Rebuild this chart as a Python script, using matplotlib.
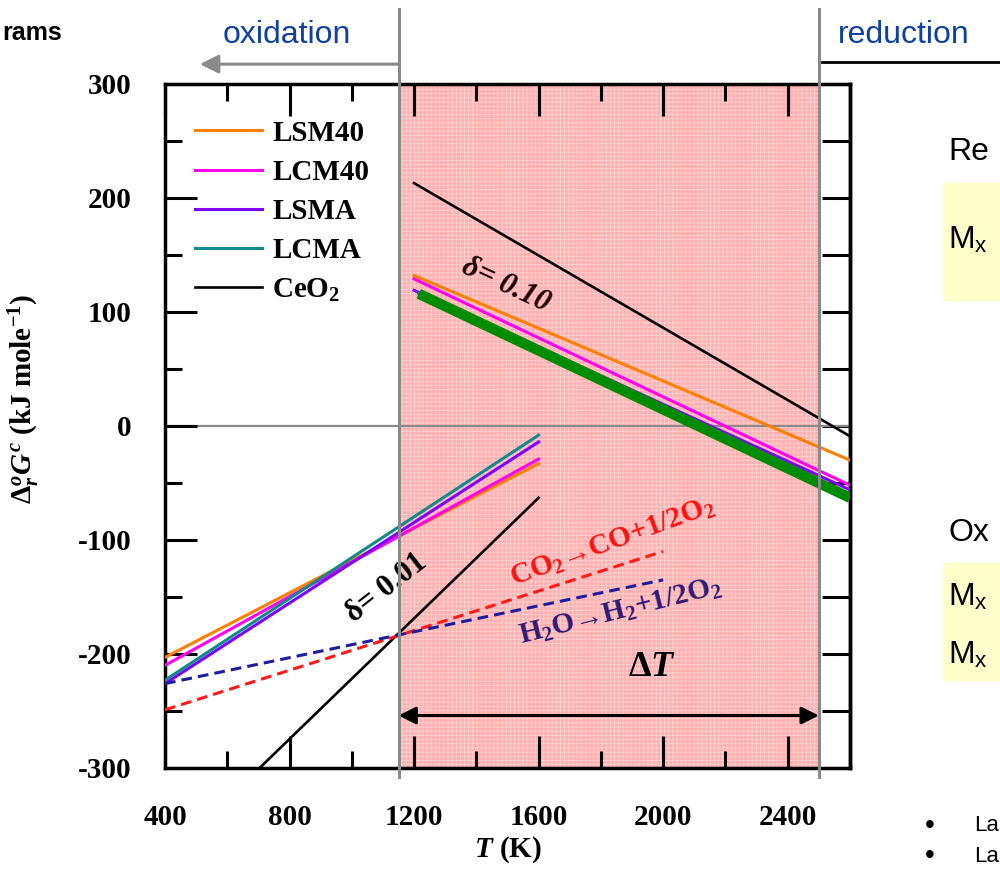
import matplotlib
matplotlib.use("Agg")
import matplotlib.pyplot as plt
import matplotlib.transforms as mtransforms
from matplotlib.patches import Rectangle
from matplotlib.lines import Line2D

plt.rcParams["font.family"] = ["Liberation Serif", "DejaVu Serif"]
plt.rcParams["font.weight"] = "bold"
plt.rcParams["axes.labelweight"] = "bold"
plt.rcParams["axes.unicode_minus"] = False
plt.rcParams["mathtext.fontset"] = "custom"
plt.rcParams["mathtext.rm"] = "Liberation Serif:bold"
plt.rcParams["mathtext.it"] = "Liberation Serif:bold:italic"
plt.rcParams["mathtext.bf"] = "Liberation Serif:bold"
plt.rcParams["hatch.linewidth"] = 0.5

# delta = 0.10 branch (reduction, high T)
T_high = [1200, 2600]
lsm40_high = [132, -30]
lcm40_high = [129, -52]
lsma_high = [119, -56]
T_lcma_high = [1215, 2600]
lcma_high = [116, -63]
ceo2_high = [213, -9]

# delta = 0.01 branch (oxidation, low T)
T_low = [400, 1600]
lsm40_low = [-203, -33]
lcm40_low = [-210, -29]
lsma_low = [-226, -14]
lcma_low = [-223, -8]
T_ceo2_low = [700, 1600]
ceo2_low = [-301, -63]

# splitting reactions
T_split = [400, 2000]
co2_split = [-249, -110]
h2o_split = [-226, -135]

T_oxid = 1150
T_red = 2500

names = ["LSM40", "LCM40", "LSMA", "LCMA", "CeO$_2$"]
colors = ["#ff7f00", "#ff00f0", "#8000ff", "#108a8a", "black"]

fig = plt.figure(figsize=(10, 8.72), dpi=100)
ax = fig.add_axes([0.165, 0.1193, 0.685, 0.7844])
ax.set_xlim(400, 2600)
ax.set_ylim(-300, 300)

# shaded window
ax.axvspan(T_oxid, T_red, facecolor="#ffb0b0", edgecolor="#ffd6d6",
           hatch="++++", lw=0, zorder=0)
ax.axhline(0, color="#8a8a8a", lw=1.6, zorder=1)

lows = [lsm40_low, lcm40_low, lsma_low, lcma_low]
highs = [lsm40_high, lcm40_high, lsma_high, lcma_high]
for i in range(4):
    ax.plot(T_low, lows[i], color=colors[i], lw=2.2, label=names[i], zorder=3)
    th = T_lcma_high if i == 3 else T_high
    ax.plot(th, highs[i], color=colors[i], lw=2.2, zorder=3)
ax.plot(T_lcma_high, lcma_high, color="#008c00", lw=7.5, zorder=3,
        solid_capstyle="butt")
ax.plot(T_high, ceo2_high, color="black", lw=1.9, label=names[4], zorder=3)
ax.plot(T_ceo2_low, ceo2_low, color="black", lw=1.9, zorder=3)

ax.plot(T_split, co2_split, color="#ff1a1a", lw=2.2, dashes=(3.5, 2), zorder=3)
ax.plot(T_split, h2o_split, color="#1c1c9c", lw=2.2, dashes=(3.5, 2), zorder=3)

# window boundaries reaching outside the axes
bt = mtransforms.blended_transform_factory(ax.transData, ax.transAxes)
for tv in [T_oxid, T_red]:
    ax.plot([tv, tv], [-0.013, 1.11], color="#8a8a8a", lw=2.2,
            transform=bt, clip_on=False, zorder=5)

ax.annotate("", xy=(512, 1.029), xytext=(T_oxid, 1.029),
            xycoords=bt, textcoords=bt,
            arrowprops=dict(arrowstyle="-|>", color="#8a8a8a", lw=2.2,
                            mutation_scale=28, shrinkA=0, shrinkB=0))
fig.add_artist(Line2D([0.822, 1.0], [0.929, 0.929], color="black", lw=2,
                      transform=fig.transFigure))

ax.annotate("", xy=(T_red, -254), xytext=(T_oxid, -254),
            arrowprops=dict(arrowstyle="<|-|>", color="black", lw=2.2,
                            mutation_scale=26, shrinkA=0, shrinkB=0), zorder=4)

ax.text(1495, 124, "δ= 0.10", rotation=-25, fontsize=22, style="italic",
        color="#200000", ha="center", va="center", zorder=4)
ax.text(1110, -142, "δ= 0.01", rotation=38, fontsize=22,
        color="black", ha="center", va="center", zorder=4)
ax.text(1839, -102, "CO$_2$→CO+1/2O$_2$", rotation=20, fontsize=21,
        color="#ff1010", ha="center", va="center", zorder=4)
ax.text(1861, -163, "H$_2$O→H$_2$+1/2O$_2$", rotation=14, fontsize=21,
        color="#2e1a78", ha="center", va="center", zorder=4)
ax.text(1964, -212, "Δ$T$", fontsize=26, color="black",
        ha="center", va="center", zorder=4)

# axes styling
for sp in ax.spines.values():
    sp.set_linewidth(2.5)
ax.set_xticks([400, 800, 1200, 1600, 2000, 2400])
ax.set_xticks([600, 1000, 1400, 1800, 2200], minor=True)
ax.set_yticks(range(-300, 301, 100))
ax.set_yticks(range(-250, 300, 100), minor=True)
ax.tick_params(which="both", direction="in", width=2.2, top=True,
               labelsize=21)
ax.tick_params(which="major", length=23)
ax.tick_params(which="minor", length=12)
ax.tick_params(axis="y", pad=24)
ax.tick_params(axis="x", pad=26)
sec = ax.secondary_yaxis("right")
sec.set_yticks(range(-300, 301, 50))
sec.tick_params(direction="in", length=20, width=2.2, labelright=False)
sec.spines["right"].set_linewidth(2.5)

ax.set_xlabel("$T$ (K)", fontsize=21, labelpad=2)
ax.set_ylabel(r"$\Delta_{r}^{o}G^{c}$ (kJ mole$^{-1}$)", fontsize=21,
              labelpad=6)
ax.yaxis.set_label_coords(-0.18, 0.54)

ax.legend(loc="upper left", bbox_to_anchor=(0.044, 0.948), frameon=False,
          fontsize=21, handlelength=2.3, handletextpad=0.35,
          labelspacing=0.42, borderaxespad=0, borderpad=0)

# slide fragments around the figure
sans = ["Liberation Sans", "DejaVu Sans"]
fig.text(0.062, 0.962, "rams", family=sans, fontsize=18, weight="bold",
         ha="right", va="center")
fig.text(0.287, 0.960, "oxidation", family=sans, fontsize=23,
         weight="normal", color="#1040a0", ha="center", va="center")
fig.text(0.838, 0.960, "reduction", family=sans, fontsize=23,
         weight="normal", color="#1040a0", ha="left", va="center")
fig.add_artist(Rectangle((0.943, 0.656), 0.06, 0.134, color="#ffffcc",
                         transform=fig.transFigure, zorder=0))
fig.add_artist(Rectangle((0.943, 0.220), 0.06, 0.134, color="#ffffcc",
                         transform=fig.transFigure, zorder=0))
slide_lines = [("Re", 0.826), ("M$_\\mathregular{x}$", 0.725),
               ("Ox", 0.389), ("M$_\\mathregular{x}$", 0.315),
               ("M$_\\mathregular{x}$", 0.249)]
for s, yy in slide_lines:
    fig.text(0.948, yy, s, family=sans, fontsize=23, weight="normal",
             ha="left", va="center")
for yy in [0.053, 0.018]:
    fig.text(0.925, yy, "•", family=sans, fontsize=20, weight="normal",
             ha="left", va="center")
    fig.text(0.974, yy, "La", family=sans, fontsize=16, weight="normal",
             ha="left", va="center")

fig.savefig("out.png", dpi=100)
